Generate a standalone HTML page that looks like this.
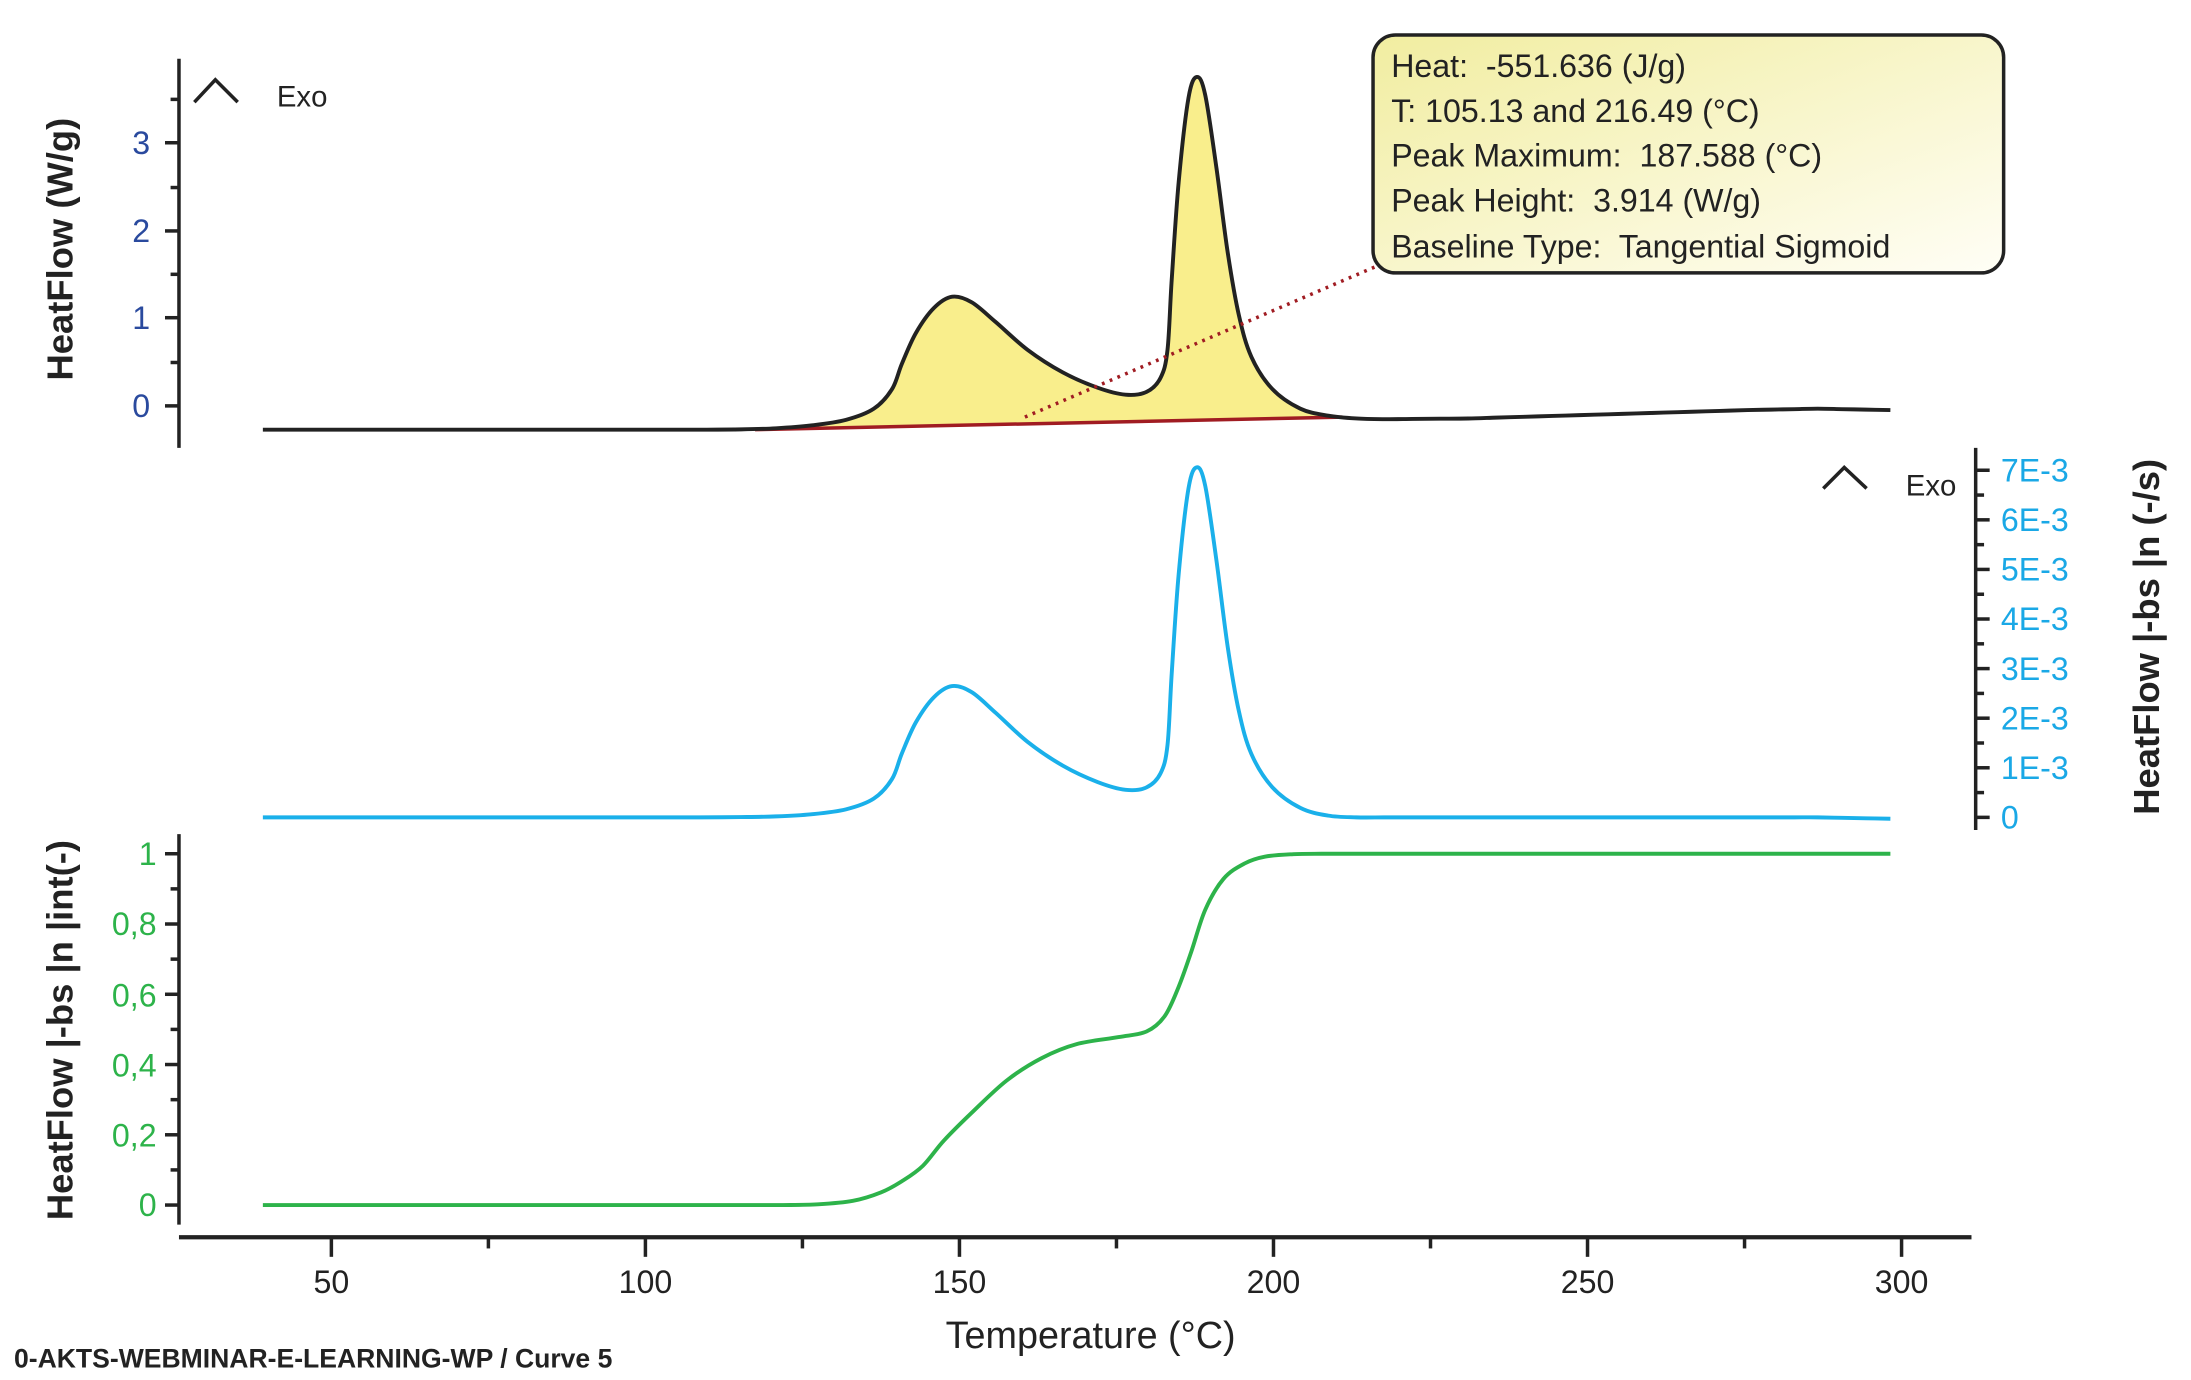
<!DOCTYPE html>
<html><head><meta charset="utf-8"><style>
html,body{margin:0;padding:0;background:#fff;}
svg{display:block;}
text{font-family:"Liberation Sans",sans-serif;}
</style></head><body>
<svg id="s" width="2191" height="1380" viewBox="0 0 1567 986" preserveAspectRatio="none" xmlns="http://www.w3.org/2000/svg">
<defs>
<linearGradient id="g" x1="0" y1="0" x2="1" y2="1">
<stop offset="0" stop-color="#f1eda0"/><stop offset="1" stop-color="#fffef6"/>
</linearGradient>
</defs>
<g id="plot"></g>
<g stroke="#222" stroke-width="2.5" fill="none">
<line x1="128" y1="42" x2="128" y2="320"/>
<line x1="118" y1="290" x2="128" y2="290"/><line x1="118" y1="227" x2="128" y2="227"/>
<line x1="118" y1="165" x2="128" y2="165"/><line x1="118" y1="102" x2="128" y2="102"/>
<line x1="122" y1="259" x2="128" y2="259"/><line x1="122" y1="196" x2="128" y2="196"/>
<line x1="122" y1="134" x2="128" y2="134"/><line x1="122" y1="71" x2="128" y2="71"/>
<polyline points="139,73 154,57 170,73"/>
<line x1="1413" y1="320" x2="1413" y2="593"/>
<polyline points="1304,349 1319,334 1335,349"/>
<line x1="128" y1="596" x2="128" y2="875"/>
<line x1="128" y1="884" x2="1410" y2="884" stroke-width="3"/>
</g>
<g id="ticks" stroke="#222" stroke-width="2.5"></g>
<g font-size="23" fill="#2a4a9e" text-anchor="middle">
<text x="101" y="298">0</text><text x="101" y="235">1</text><text x="101" y="173">2</text><text x="101" y="110">3</text>
</g>
<text x="198" y="76" font-size="21" fill="#222">Exo</text>
<text x="1363" y="354" font-size="21" fill="#222">Exo</text>
<g font-size="23" fill="#1aa8e6" id="mlab"></g>
<g font-size="23" fill="#2db34a" text-anchor="end">
<text x="112" y="618">1</text><text x="112" y="668">0,8</text><text x="112" y="719">0,6</text>
<text x="112" y="769">0,4</text><text x="112" y="819">0,2</text><text x="112" y="869">0</text>
</g>
<g font-size="23" fill="#222" text-anchor="middle" id="xlab"></g>
<text transform="translate(52,178) rotate(-90)" text-anchor="middle" font-size="26" font-weight="bold" fill="#222">HeatFlow (W/g)</text>
<text transform="translate(52,736) rotate(-90)" text-anchor="middle" font-size="26" font-weight="bold" fill="#222">HeatFlow |-bs |n |int(-)</text>
<text transform="translate(1544,455) rotate(-90)" text-anchor="middle" font-size="26" font-weight="bold" fill="#222">HeatFlow |-bs |n (-/s)</text>
<text x="780" y="963" text-anchor="middle" font-size="27" fill="#222">Temperature (°C)</text>
<text x="10" y="977" font-size="19" font-weight="bold" fill="#222">0-AKTS-WEBMINAR-E-LEARNING-WP / Curve 5</text>
<line x1="733" y1="298" x2="985" y2="190" stroke="#a01c22" stroke-width="2.5" stroke-dasharray="2,4"/>
<rect x="982" y="25" width="451" height="170" rx="16" fill="url(#g)" stroke="#222" stroke-width="2.5"/>
<g font-size="23" fill="#222">
<text x="995" y="55">Heat:&#160; -551.636 (J/g)</text>
<text x="995" y="87">T: 105.13 and 216.49 (°C)</text>
<text x="995" y="119">Peak Maximum:&#160; 187.588 (°C)</text>
<text x="995" y="151">Peak Height:&#160; 3.914 (W/g)</text>
<text x="995" y="184">Baseline Type:&#160; Tangential Sigmoid</text>
</g>
</svg>
<script>
(function(){
function dens(p){var o=[p[0]];for(var i=1;i<p.length;i++){var a=p[i-1],b=p[i];var dx=b[0]-a[0];var n=dx>40?Math.ceil(dx/20):1;for(var k=1;k<=n;k++){o.push([a[0]+dx*k/n,a[1]+(b[1]-a[1])*k/n]);}}return o;}
function cr(p0){var p=dens(p0);var d="M"+p[0][0]+","+p[0][1];for(var i=0;i<p.length-1;i++){var a=p[Math.max(i-1,0)],b=p[i],c=p[i+1],e=p[Math.min(i+2,p.length-1)];
var c1=[b[0]+(c[0]-a[0])/6,b[1]+(c[1]-a[1])/6],c2=[c[0]-(e[0]-b[0])/6,c[1]-(e[1]-b[1])/6];
d+=" C"+c1.join(",")+" "+c2.join(",")+" "+c.join(",");}return d;}
var tc=[[188,307],[500,307],[530,306.8],[555,306],[580,304],[605,300],[625,292],[638,278],[645,260],[655,238],[668,220],[681,212],[695,216],[712,230],[735,250],[760,266],[785,277],[805,282],[820,280],[830,270],[835,250],[838,200],[843,130],[850,70],[856,55],[862,68],[870,120],[878,180],[886,225],[895,255],[910,278],[930,292],[950,297],[970,299],[990,299.5],[1050,299],[1150,296],[1250,293],[1300,292],[1352,293]];
function base(x){if(x<540)return 307;if(x>960)return 298;return 307-(x-540)*9/420;}
var mid=tc.map(function(p){var x=p[0],y=p[1];var b=base(x);var v=(b-y)*1.02;if(x>955)v=0;if(x<=540)v=307-y;return [x,584-v];});
mid[mid.length-1][1]=585;
var bot=[[188,861],[560,861],[585,860.5],[610,858],[630,852],[645,844],[660,833],[675,815],[695,795],[720,772],[745,756],[770,746],[800,741],[820,737],[833,726],[843,705],[852,680],[862,650],[875,628],[890,617],[905,612],[925,610.3],[945,610],[1352,610]];
var fillPts=tc.filter(function(p){return p[0]>=540&&p[0]<=960;});
var fd=cr([[540,307]].concat(fillPts).concat([[960,298]]))+" L960,298 L540,307 Z";
var g=document.getElementById("plot");
g.innerHTML='<path d="'+fd+'" fill="#f9ee8c"/>'+
'<line x1="540" y1="307" x2="960" y2="298" stroke="#a01c22" stroke-width="2.5"/>'+
'<path d="'+cr(tc)+'" fill="none" stroke="#222" stroke-width="2.8"/>'+
'<path d="'+cr(mid)+'" fill="none" stroke="#1ab0ea" stroke-width="2.8"/>'+
'<path d="'+cr(bot)+'" fill="none" stroke="#2db34a" stroke-width="2.8"/>';
var t="",ml="",xl="";
for(var i=0;i<=7;i++){var y=584-i*35.43;t+='<line x1="1413" y1="'+y+'" x2="1423" y2="'+y+'"/>';
if(i<7){var y2=y-17.7;t+='<line x1="1413" y1="'+y2+'" x2="1419" y2="'+y2+'"/>';}
ml+='<text x="1431" y="'+(y+8)+'">'+(i==0?"0":i+"E-3")+'</text>';}
for(var i=0;i<=5;i++){var y=861-i*50.2;t+='<line x1="118" y1="'+y+'" x2="128" y2="'+y+'"/>';if(i<5)t+='<line x1="122" y1="'+(y-25.1)+'" x2="128" y2="'+(y-25.1)+'"/>';}
for(var i=0;i<=5;i++){var x=237+i*224.6;t+='<line x1="'+x+'" y1="884" x2="'+x+'" y2="898"/>';if(i<5)t+='<line x1="'+(x+112.3)+'" y1="884" x2="'+(x+112.3)+'" y2="892"/>';
xl+='<text x="'+x+'" y="924">'+(50+i*50)+'</text>';}
document.getElementById("ticks").innerHTML=t;
document.getElementById("mlab").innerHTML=ml;
document.getElementById("xlab").innerHTML=xl;
})();
</script>
</body></html>
